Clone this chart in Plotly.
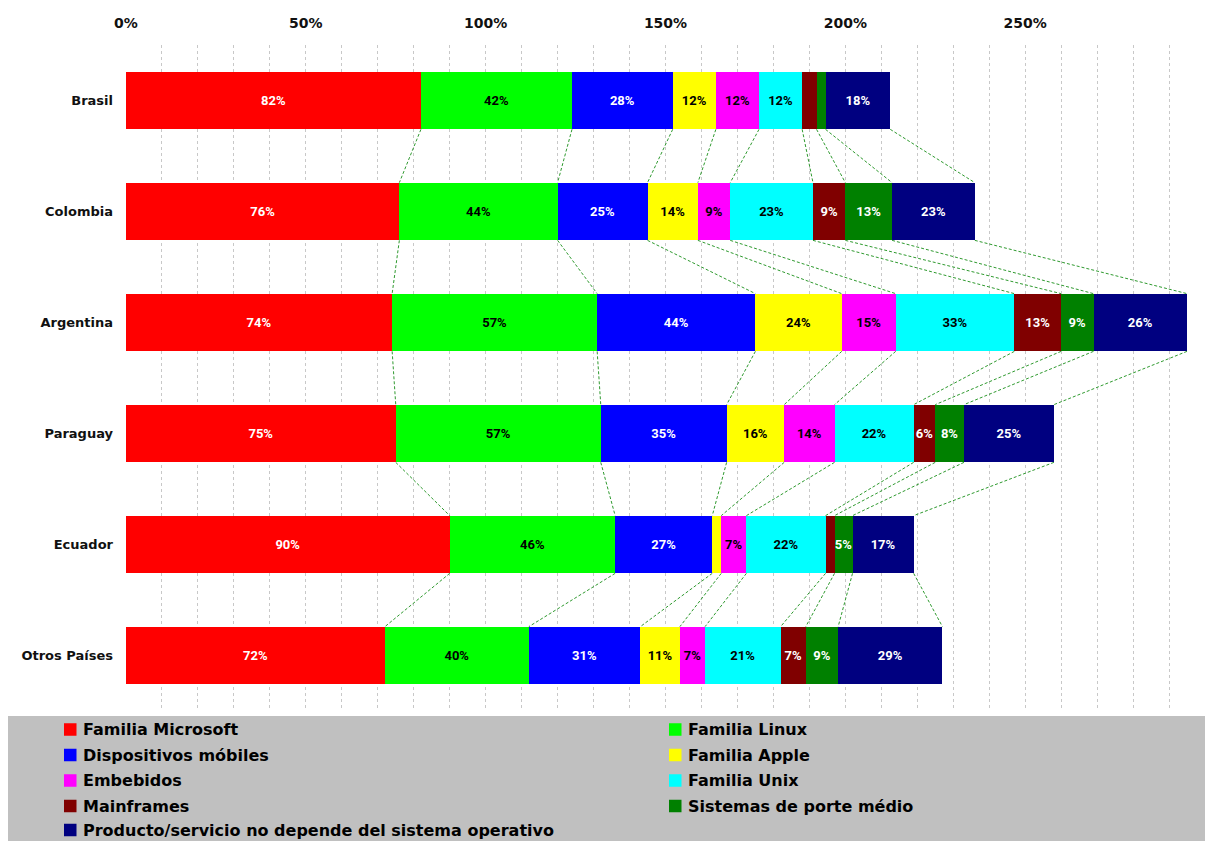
import plotly.graph_objects as go

# Countries (top to bottom) and operating-system families
countries = ["Brasil", "Colombia", "Argentina", "Paraguay", "Ecuador", "Otros Países"]
series_names = [
    "Familia Microsoft", "Familia Linux", "Dispositivos móbiles", "Familia Apple",
    "Embebidos", "Familia Unix", "Mainframes", "Sistemas de porte médio",
    "Producto/servicio no depende del sistema operativo",
]

microsoft = [82, 76, 74, 75, 90, 72]
linux = [42, 44, 57, 57, 46, 40]
moviles = [28, 25, 44, 35, 27, 31]
apple = [12, 14, 24, 16, 2.5, 11]
embebidos = [12, 9, 15, 14, 7, 7]
unix = [12, 23, 33, 22, 22, 21]
mainframes = [4, 9, 13, 6, 2.5, 7]
porte_medio = [2.5, 13, 9, 8, 5, 9]
independiente = [18, 23, 26, 25, 17, 29]

series_values = [microsoft, linux, moviles, apple, embebidos, unix,
                 mainframes, porte_medio, independiente]

tick_values = [0, 50, 100, 150, 200, 250]
tick_labels = ["0%", "50%", "100%", "150%", "200%", "250%"]

colors = ["#FF0000", "#00FF00", "#0000FF", "#FFFF00", "#FF00FF",
          "#00FFFF", "#800000", "#008000", "#000080"]
label_colors = ["white", "black", "white", "black", "black",
                "black", "white", "white", "white"]

W, H = 1205, 841
M_L, M_R, M_T, M_B = 126, 0, 45, 130
PLOT_W, PLOT_H = W - M_L - M_R, H - M_T - M_B

BAR_WIDTH = 0.52
MIN_LABEL = 5


def px_x(px):
    return (px - M_L) / PLOT_W


def px_y(py):
    return (H - M_B - py) / PLOT_H


fig = go.Figure()
for name, vals, col, tcol in zip(series_names, series_values, colors, label_colors):
    fig.add_trace(go.Bar(
        y=countries, x=vals, name=name, orientation="h",
        marker=dict(color=col, line=dict(width=0)),
        width=BAR_WIDTH,
        text=[f"{v:.0f}%" if v >= MIN_LABEL else "" for v in vals],
        textposition="inside", insidetextanchor="middle",
        constraintext="none", textangle=0,
        insidetextfont=dict(family="Roboto", size=13, color=tcol, weight="bold"),
        hoverinfo="skip", showlegend=False,
    ))

# Dashed series lines joining matching segment edges of neighbouring bars
half = BAR_WIDTH / 2
cum = []
for i in range(len(countries)):
    run, edges = 0, []
    for vals in series_values:
        run += vals[i]
        edges.append(run)
    cum.append(edges)

shapes = []
for i in range(len(countries) - 1):
    for k in range(len(series_values)):
        shapes.append(dict(
            type="line", xref="x", yref="y",
            x0=cum[i][k], y0=i + half, x1=cum[i + 1][k], y1=i + 1 - half,
            line=dict(color="#2f9a2f", width=1, dash="3px,2px"), layer="above",
        ))

# Grey legend panel with two columns of entries
shapes.append(dict(
    type="rect", xref="paper", yref="paper",
    x0=px_x(8), x1=1.0, y0=px_y(H + 2), y1=px_y(716),
    fillcolor="#C0C0C0", line=dict(width=0), layer="below",
))

annotations = []
col_square_x = [64, 669]
row_y = [729.5, 755, 780.5, 806, 830]
sq = 12.5
for idx, (name, col) in enumerate(zip(series_names, colors)):
    r, c = divmod(idx, 2)
    sx, cy = col_square_x[c], row_y[r]
    shapes.append(dict(
        type="rect", xref="paper", yref="paper",
        x0=px_x(sx), x1=px_x(sx + sq), y0=px_y(cy + sq / 2), y1=px_y(cy - sq / 2),
        fillcolor=col, line=dict(width=0), layer="above",
    ))
    annotations.append(dict(
        xref="paper", yref="paper", x=px_x(sx + sq + 4), y=px_y(cy),
        xanchor="left", yanchor="middle", text=name, showarrow=False,
        font=dict(family="DejaVu Sans", size=16, color="black", weight="bold"),
    ))

fig.update_layout(
    width=W, height=H,
    margin=dict(l=M_L, r=M_R, t=M_T, b=M_B),
    paper_bgcolor="white", plot_bgcolor="white",
    barmode="stack", bargap=1 - BAR_WIDTH,
    shapes=shapes, annotations=annotations,
    showlegend=False,
    xaxis=dict(
        range=[0, 300], side="top",
        tickmode="array", tickvals=tick_values, ticktext=tick_labels,
        tickfont=dict(family="DejaVu Sans", size=14, color="#111", weight="bold"),
        ticks="", ticklabelstandoff=13, showline=False, zeroline=False,
        showgrid=True, gridcolor="#C8C8C8", griddash="3px,3px", gridwidth=1,
        minor=dict(dtick=10, tick0=0, showgrid=True, gridcolor="#C8C8C8",
                   griddash="3px,3px", gridwidth=1),
        fixedrange=True,
    ),
    yaxis=dict(
        autorange="reversed", categoryorder="array", categoryarray=countries,
        tickfont=dict(family="DejaVu Sans", size=13, color="#111", weight="bold"),
        ticks="", ticklabelstandoff=12, showline=False, showgrid=False,
        zeroline=False, fixedrange=True,
    ),
)

fig.write_html("out.html", config={"displayModeBar": False})
